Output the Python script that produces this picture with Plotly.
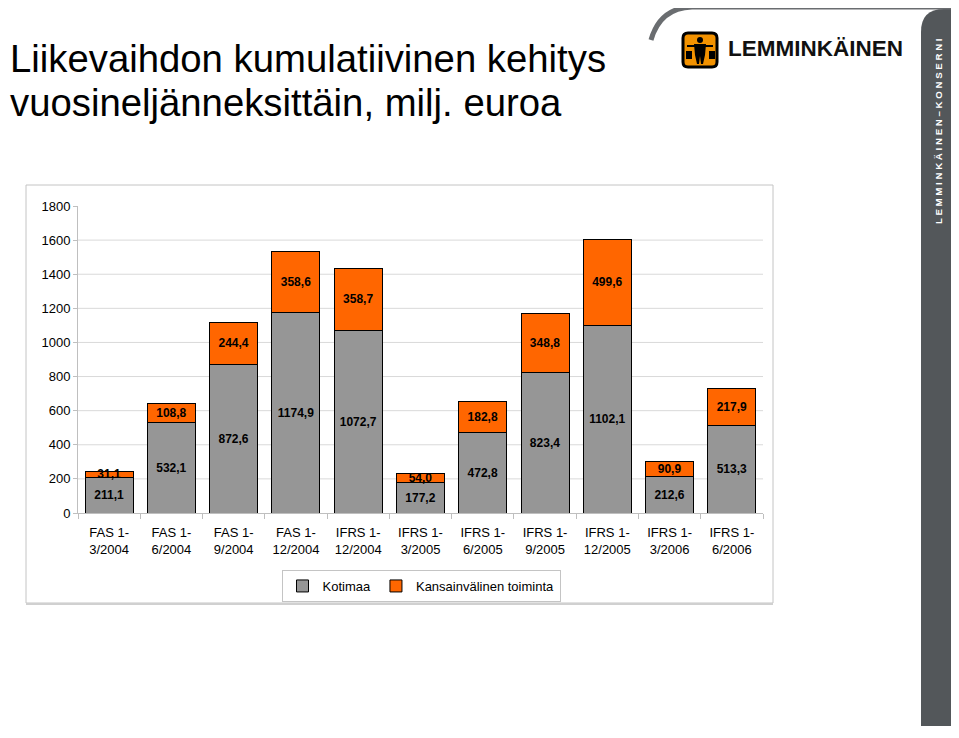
import plotly.graph_objects as go

# data (milj. euroa, cumulative per quarter)
categories = ["FAS 1-<br>3/2004", "FAS 1-<br>6/2004", "FAS 1-<br>9/2004", "FAS 1-<br>12/2004",
              "IFRS 1-<br>12/2004", "IFRS 1-<br>3/2005", "IFRS 1-<br>6/2005", "IFRS 1-<br>9/2005",
              "IFRS 1-<br>12/2005", "IFRS 1-<br>3/2006", "IFRS 1-<br>6/2006"]
kotimaa = [211.1, 532.1, 872.6, 1174.9, 1072.7, 177.2, 472.8, 823.4, 1102.1, 212.6, 513.3]
kansainvalinen = [31.1, 108.8, 244.4, 358.6, 358.7, 54.0, 182.8, 348.8, 499.6, 90.9, 217.9]
y_ticks = [0, 200, 400, 600, 800, 1000, 1200, 1400, 1600, 1800]

# the page body has an 8px margin, so the figure is 16px smaller than the window
OFF = 8
W, H = 959 - 2 * OFF, 738 - 2 * OFF
FONT = "Liberation Sans, Arial, sans-serif"
GREY = "#969696"
ORANGE = "#ff6600"
BAND = "#53575a"


def px(x):
    # window pixel -> paper x
    return (x - OFF) / W


def py(y):
    # window pixel -> paper y
    return 1 - (y - OFF) / H


def fi(v):
    return f"{v:.1f}".replace(".", ",")


fig = go.Figure()
fig.add_trace(go.Bar(x=categories, y=kotimaa, name="Kotimaa",
                     marker=dict(color=GREY, line=dict(color="black", width=1)),
                     text=[fi(v) for v in kotimaa], textposition="inside",
                     insidetextanchor="middle", cliponaxis=False,
                     textfont=dict(size=12, color="black", weight="bold", family=FONT)))
fig.add_trace(go.Bar(x=categories, y=kansainvalinen, name="Kansainvälinen toiminta",
                     marker=dict(color=ORANGE, line=dict(color="black", width=1)),
                     text=[fi(v) for v in kansainvalinen], textposition="inside",
                     insidetextanchor="middle", cliponaxis=False,
                     textfont=dict(size=12, color="black", weight="bold", family=FONT)))

shapes = []
# chart frame
shapes.append(dict(type="rect", xref="paper", yref="paper", x0=px(26), x1=px(773), y0=py(603), y1=py(185),
                   line=dict(color="#c4c4c4", width=1), layer="below"))
shapes.append(dict(type="line", xref="paper", yref="paper", x0=px(26), x1=px(773), y0=py(604), y1=py(604),
                   line=dict(color="#d0d0d0", width=2), layer="below"))
# gridlines
for t in y_ticks[1:-1]:
    shapes.append(dict(type="line", xref="paper", yref="y", x0=px(78), x1=px(763), y0=t, y1=t,
                       line=dict(color="#d9d9d9", width=1), layer="below"))

# right band and top arc
band = (f"M {px(921)},{py(726)} L {px(921)},{py(32)} Q {px(921)},{py(9)} {px(944)},{py(9)} "
        f"L {px(960)},{py(9)} L {px(960)},{py(726)} Z")
shapes.append(dict(type="path", xref="paper", yref="paper", path=band, fillcolor=BAND,
                   line=dict(width=0)))
arc = f"M {px(651)},{py(40)} Q {px(660)},{py(8)} {px(692)},{py(7)} L {px(960)},{py(7)}"
shapes.append(dict(type="path", xref="paper", yref="paper", path=arc,
                   line=dict(color="#6a6d70", width=5)))

# logo square with simple figure
logo = (f"M {px(688)},{py(33)} L {px(712)},{py(33)} Q {px(717)},{py(33)} {px(717)},{py(38)} "
        f"L {px(717)},{py(62)} Q {px(717)},{py(67)} {px(712)},{py(67)} L {px(688)},{py(67)} "
        f"Q {px(683)},{py(67)} {px(683)},{py(62)} L {px(683)},{py(38)} Q {px(683)},{py(33)} {px(688)},{py(33)} Z")
shapes.append(dict(type="path", xref="paper", yref="paper", path=logo, fillcolor="#f39200",
                   line=dict(color="black", width=3)))
shapes.append(dict(type="circle", xref="paper", yref="paper", x0=px(697), x1=px(703), y0=py(43), y1=py(37),
                   fillcolor="black", line=dict(width=0)))
body = (f"M {px(694)},{py(44)} L {px(706)},{py(44)} L {px(705)},{py(55)} L {px(703)},{py(64)} "
        f"L {px(701)},{py(64)} L {px(700)},{py(56)} L {px(699)},{py(64)} L {px(697)},{py(64)} "
        f"L {px(695)},{py(55)} Z")
shapes.append(dict(type="path", xref="paper", yref="paper", path=body, fillcolor="black",
                   line=dict(width=0)))
shapes.append(dict(type="line", xref="paper", yref="paper", x0=px(687), x1=px(713), y0=py(46), y1=py(46),
                   line=dict(color="black", width=2)))
for bx in (686, 709):
    shapes.append(dict(type="rect", xref="paper", yref="paper", x0=px(bx), x1=px(bx + 6), y0=py(59), y1=py(51),
                       fillcolor="black", line=dict(width=0)))

annotations = [
    dict(text="Liikevaihdon kumulatiivinen kehitys", x=px(8), y=py(59), xref="paper", yref="paper",
         xanchor="left", yanchor="middle", showarrow=False, font=dict(size=38.3, color="black", family=FONT)),
    dict(text="vuosineljänneksittäin, milj. euroa", x=px(8), y=py(103), xref="paper", yref="paper",
         xanchor="left", yanchor="middle", showarrow=False, font=dict(size=38.3, color="black", family=FONT)),
    dict(text="LEMMINKÄINEN", x=px(726), y=py(48), xref="paper", yref="paper",
         xanchor="left", yanchor="middle", showarrow=False,
         font=dict(size=22.5, color="#111111", family=FONT, weight="bold")),
    dict(text="L E M M I N K Ä I N E N – K O N S E R N I", x=px(938), y=py(131), xref="paper", yref="paper",
         xanchor="center", yanchor="middle", showarrow=False, textangle=-90,
         font=dict(size=9.7, color="white", family=FONT, weight="bold")),
]

fig.update_layout(
    barmode="stack",
    bargap=0.23,
    width=W, height=H, autosize=False,
    margin=dict(l=0, r=0, t=0, b=0, autoexpand=False),
    paper_bgcolor="white", plot_bgcolor="white",
    font=dict(family=FONT, size=13, color="black"),
    uniformtext=dict(mode="show", minsize=12),
    shapes=shapes,
    annotations=annotations,
    legend=dict(orientation="h", x=px(421), xanchor="center", y=py(586), yanchor="middle",
                bordercolor="#c4c4c4", borderwidth=1, bgcolor="white", itemwidth=30,
                font=dict(size=13, color="black", family=FONT), traceorder="normal"),
    xaxis=dict(domain=[px(78), px(763)], showline=True, linecolor="#bfbfbf", linewidth=1,
               ticks="outside", tickson="boundaries", ticklen=5, tickcolor="#bfbfbf",
               ticklabelstandoff=7,
               showgrid=False, tickfont=dict(size=13, color="black", family=FONT), fixedrange=True),
    yaxis=dict(domain=[py(513), py(206)], range=[0, 1800], tickvals=y_ticks, showgrid=False,
               showline=True, linecolor="#bfbfbf", linewidth=1, ticks="outside", ticklen=4,
               tickcolor="#bfbfbf", zeroline=False,
               tickfont=dict(size=13, color="black", family=FONT), fixedrange=True),
)

fig.write_html("out.html")
